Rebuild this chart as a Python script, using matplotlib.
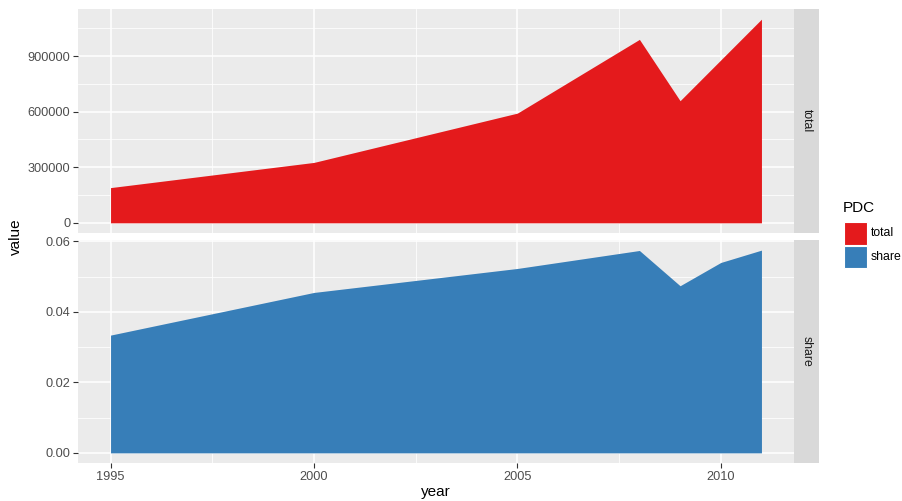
import matplotlib
matplotlib.use("Agg")
import matplotlib.pyplot as plt
from matplotlib.patches import Rectangle
import numpy as np

years = [1995, 2000, 2005, 2008, 2009, 2010, 2011]
total = [190000, 326000, 592000, 990000, 659000, 879000, 1099000]
share = [0.0334, 0.0455, 0.0523, 0.0574, 0.0474, 0.0540, 0.0575]
facets = ["total", "share"]
colors = {"total": "#E41A1C", "share": "#377EB8"}
x_ticks = [1995, 2000, 2005, 2010]
total_ticks = [0, 300000, 600000, 900000]
share_ticks = [0.00, 0.02, 0.04, 0.06]
share_labels = ["0.00", "0.02", "0.04", "0.06"]

W, H = 902, 501
fig = plt.figure(figsize=(W / 100, H / 100), dpi=100)
plt.rcParams['font.family'] = ['Liberation Sans', 'DejaVu Sans']

def px_axes(x0, y0, x1, y1):
    return fig.add_axes([x0 / W, 1 - y1 / H, (x1 - x0) / W, (y1 - y0) / H])

panel_bg = "#EBEBEB"
xmin, xmax = min(years), max(years)
xr = xmax - xmin
xlim = (xmin - 0.05 * xr, xmax + 0.05 * xr)
TICK_FS = 9.2

panels = [
    ("total", total, total_ticks, [str(t) for t in total_ticks], 9, 233),
    ("share", share, share_ticks, share_labels, 240, 463),
]

for name, vals, yt, ylab, y0, y1 in panels:
    ax = px_axes(78, y0, 794, y1)
    ax.set_facecolor(panel_bg)
    vmax = max(vals)
    ax.set_ylim(-0.05 * vmax, 1.05 * vmax)
    ax.set_xlim(*xlim)
    # grid
    step = yt[1] - yt[0]
    minor_y = [t + step / 2 for t in yt + [yt[-1] + step]]
    minor_y = [m for m in minor_y if -0.05 * vmax < m < 1.05 * vmax]
    for m in minor_y:
        ax.axhline(m, color="white", lw=0.55, zorder=0.5)
    for t in yt:
        ax.axhline(t, color="white", lw=1.1, zorder=0.6)
    for m in [1997.5, 2002.5, 2007.5]:
        ax.axvline(m, color="white", lw=0.55, zorder=0.5)
    for t in x_ticks:
        ax.axvline(t, color="white", lw=1.1, zorder=0.6)
    ax.fill_between(years, 0, vals, color=colors[name], lw=0, zorder=2)
    ax.set_yticks(yt)
    ax.set_yticklabels(ylab)
    ax.set_xticks(x_ticks)
    if name == "total":
        ax.set_xticklabels([])
        ax.tick_params(axis="x", length=0)
    else:
        ax.set_xticklabels([str(t) for t in x_ticks])
        ax.tick_params(axis="x", length=3.5, width=0.8, color="#333333",
                       labelsize=TICK_FS, labelcolor="#4D4D4D", pad=2)
    ax.tick_params(axis="y", length=3.5, width=0.8, color="#333333",
                   labelsize=TICK_FS, labelcolor="#4D4D4D", pad=2)
    for s in ax.spines.values():
        s.set_visible(False)
    # strip
    sax = px_axes(794, y0, 819, y1)
    sax.set_facecolor("#D9D9D9")
    sax.set_xticks([]); sax.set_yticks([])
    for s in sax.spines.values():
        s.set_visible(False)
    sax.text(0.5, 0.5, name, rotation=-90, ha="center", va="center",
             fontsize=8.8, color="#1A1A1A", transform=sax.transAxes)

# axis titles
fig.text(16 / W, 1 - 237 / H, "value", rotation=90, ha="center", va="center",
         fontsize=11, color="black")
fig.text(436 / W, 1 - 492 / H, "year", ha="center", va="center",
         fontsize=11, color="black")

# legend
fig.text(843 / W, 1 - 208 / H, "PDC", ha="left", va="center", fontsize=11,
         color="black")
for i, name in enumerate(facets):
    ky0 = 222 + i * 23.5
    fig.patches.append(Rectangle((844 / W, 1 - (ky0 + 22.5) / H), 22.5 / W, 22.5 / H,
                                 transform=fig.transFigure, facecolor=colors[name],
                                 edgecolor="white", lw=0.8))
    fig.text(871 / W, 1 - (ky0 + 11.5) / H, name, ha="left", va="center",
             fontsize=8.8, color="black")

fig.savefig("out.png", dpi=100)
